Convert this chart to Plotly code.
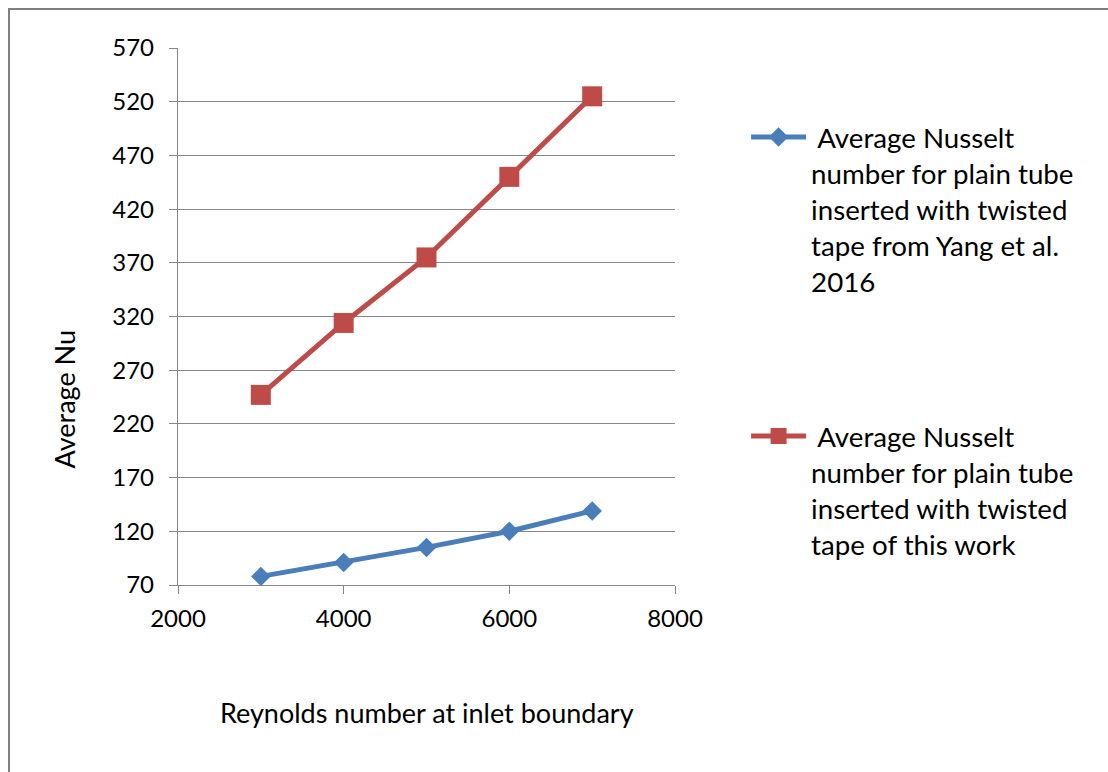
import plotly.graph_objects as go

# Reynolds numbers at the inlet boundary
reynolds = [3000, 4000, 5000, 6000, 7000]

# Average Nusselt numbers
nu_yang_2016 = [78, 91, 105, 120, 139]
nu_this_work = [247, 314, 375, 450, 525]

series_names = [
    " Average Nusselt<br>number for plain tube<br>inserted with twisted<br>tape from Yang et al.<br>2016",
    " Average Nusselt<br>number for plain tube<br>inserted with twisted<br>tape of this work",
]

y_ticks = list(range(70, 571, 50))
x_ticks = [2000, 4000, 6000, 8000]

FONT = "Lato"
GRID = "#868686"

fig = go.Figure()
fig.add_trace(go.Scatter(
    x=reynolds, y=nu_yang_2016, name=series_names[0], legendgroup="a",
    mode="lines+markers",
    line=dict(color="#4A7EBB", width=5),
    marker=dict(symbol="diamond", size=15, color="#4A7EBB"),
))
fig.add_trace(go.Scatter(
    x=reynolds, y=nu_this_work, name=series_names[1], legendgroup="b",
    mode="lines+markers",
    line=dict(color="#BE4B48", width=5),
    marker=dict(symbol="square", size=20, color="#BE4B48"),
))

fig.update_layout(
    width=1108, height=772,
    margin=dict(l=178, r=433, t=48, b=187),
    paper_bgcolor="white", plot_bgcolor="white",
    font=dict(family=FONT, color="black"),
    showlegend=True,
    legend=dict(
        x=1.143, xanchor="left", y=0.88, yanchor="top",
        font=dict(family=FONT, size=27.7, color="black"),
        valign="top", tracegroupgap=116, itemwidth=55,
        bgcolor="rgba(0,0,0,0)",
    ),
    xaxis=dict(
        range=[2000, 8000], tickvals=x_ticks, ticktext=[str(v) for v in x_ticks],
        showgrid=False, zeroline=False,
        showline=True, linecolor=GRID, linewidth=1.3,
        ticks="outside", ticklen=8, tickcolor=GRID, tickwidth=1.3,
        ticklabelstandoff=4,
        tickfont=dict(family=FONT, size=24, color="black"),
    ),
    yaxis=dict(
        range=[70, 570], tickvals=y_ticks, ticktext=[str(v) for v in y_ticks],
        showgrid=True, gridcolor=GRID, gridwidth=1.3, zeroline=False,
        showline=True, linecolor=GRID, linewidth=1.3,
        ticks="outside", ticklen=8, tickcolor=GRID, tickwidth=1.3,
        ticklabelstandoff=10,
        tickfont=dict(family=FONT, size=24, color="black"),
    ),
    annotations=[
        dict(text="Reynolds number at inlet boundary", xref="paper", yref="paper",
             x=0.5, y=-0.238, xanchor="center", yanchor="middle", showarrow=False,
             font=dict(family=FONT, size=27, color="black")),
        dict(text="Average Nu", xref="paper", yref="paper",
             x=-0.228, y=0.345, xanchor="center", yanchor="middle", showarrow=False,
             textangle=-90, font=dict(family=FONT, size=27, color="black")),
    ],
    shapes=[
        # outer chart frame (runs off the right and bottom of the page)
        dict(type="rect", xref="paper", yref="paper",
             x0=-0.34, y0=-1.0, x1=2.0, y1=1.0726,
             line=dict(color="#7F7F7F", width=2), fillcolor="rgba(0,0,0,0)", layer="below"),
    ],
)

fig.write_html("out.html")
